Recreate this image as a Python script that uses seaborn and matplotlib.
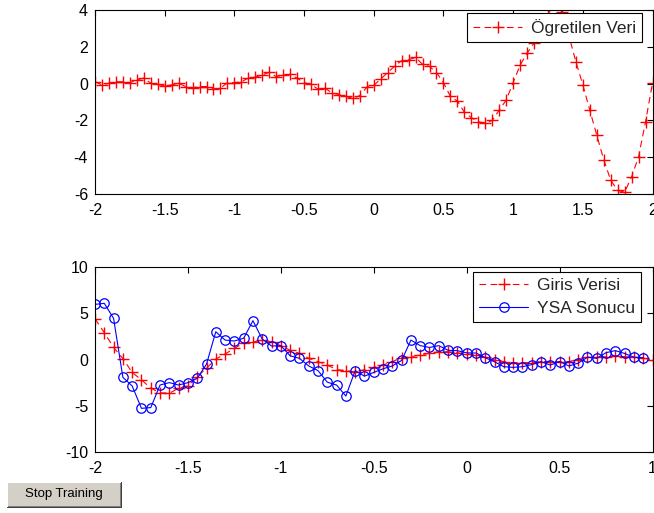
import numpy as np
import pandas as pd
import matplotlib
matplotlib.use("Agg")
import matplotlib.pyplot as plt
from matplotlib.patches import Rectangle
from matplotlib.ticker import FuncFormatter, MultipleLocator
import seaborn as sns

# ---- data ----
x_top = np.round(np.arange(-2.0, 2.0001, 0.05), 2)
y_ogretilen = [
    0.1, -0.07, 0.02, 0.1, 0.1, 0.05, 0.2, 0.3, 0.02, -0.04,
    -0.13, -0.07, 0.02, -0.16, -0.22, -0.16, -0.16, -0.3, -0.25, 0.05,
    0.05, 0.1, 0.3, 0.35, 0.47, 0.62, 0.38, 0.47, 0.5, 0.3,
    0.05, -0.04, -0.3, -0.25, -0.5, -0.6, -0.7, -0.8, -0.65, -0.2,
    -0.1, 0.25, 0.6, 0.95, 1.25, 1.3, 1.42, 1.05, 0.93, 0.6,
    0.05, -0.7, -0.95, -1.55, -1.85, -2.07, -2.16, -2.0, -1.44, -0.9,
    0.05, 1.0, 1.65, 2.2, 3.0, 3.8, 4.3, 3.9, 2.6, 1.2,
    -0.07, -1.44, -2.8, -4.13, -5.25, -5.8, -5.9, -5.07, -3.98, -2.07,
    0.02,
]

x_giris = np.round(np.arange(-2.0, 1.0001, 0.05), 2)
y_giris = [
    4.4, 2.9, 1.3, 0.1, -1.4, -2.2, -3.1, -3.6, -3.65, -3.1,
    -2.85, -1.85, -0.95, 0.05, 0.6, 1.2, 1.8, 1.9, 2.1, 1.9,
    1.5, 1.0, 0.67, 0.13, -0.23, -0.6, -1.1, -1.2, -1.35, -1.1,
    -0.85, -0.6, -0.23, 0.2, 0.3, 0.5, 0.67, 0.85, 0.85, 0.72,
    0.6, 0.49, 0.23, -0.05, -0.23, -0.34, -0.34, -0.34, -0.23, -0.23,
    -0.23, -0.23, 0.0, 0.23, 0.23, 0.31, 0.38, 0.31, 0.23, 0.13,
    0.0,
]

x_ysa = np.round(np.arange(-2.0, 0.9501, 0.05), 2)
y_ysa = [
    5.96, 6.07, 4.45, -1.93, -2.86, -5.28, -5.2, -2.76, -2.5, -2.76,
    -2.5, -2.04, -0.5, 3.0, 2.1, 2.0, 2.3, 4.2, 2.2, 1.46,
    1.5, 0.4, 0.13, -0.7, -1.2, -2.45, -2.76, -3.95, -1.2, -1.8,
    -1.4, -1.0, -0.7, -0.1, 2.1, 1.5, 1.3, 1.5, 1.0, 0.95,
    0.72, 0.7, 0.2, -0.25, -0.78, -0.85, -0.78, -0.55, -0.23, -0.6,
    -0.23, -0.7, -0.4, 0.25, 0.13, 0.74, 0.96, 0.65, 0.25, 0.2,
]

top_df = pd.DataFrame({"x": x_top, "y": y_ogretilen})
giris_df = pd.DataFrame({"x": x_giris, "y": y_giris})
ysa_df = pd.DataFrame({"x": x_ysa, "y": y_ysa})

sns.set_style("white")
plt.rcParams["font.family"] = ["Liberation Sans", "DejaVu Sans"]
plt.rcParams["font.size"] = 11.5

W, H = 654, 513
fig = plt.figure(figsize=(W / 100, H / 100), dpi=100, facecolor="white")


def px_axes(x0, y0, x1, y1):
    # pixel box -> figure fraction
    return fig.add_axes([x0 / W, 1 - y1 / H, (x1 - x0) / W, (y1 - y0) / H])


ax1 = px_axes(95, 10, 652.5, 194)
ax2 = px_axes(95, 267, 652.5, 452)

fmt = FuncFormatter(lambda v, p: "%g" % v)
dash = (0, (6, 4))

# top plot
sns.lineplot(data=top_df, x="x", y="y", ax=ax1, color="red", linestyle=dash,
             linewidth=0.8, marker="+", markersize=8, markeredgewidth=1.0,
             markeredgecolor="red", sort=False, estimator=None,
             label="Ögretilen Veri")
ax1.set_xlim(-2, 2)
ax1.set_ylim(-6, 4)
ax1.xaxis.set_major_locator(MultipleLocator(0.5))
ax1.yaxis.set_major_locator(MultipleLocator(2))

# bottom plot
sns.lineplot(data=giris_df, x="x", y="y", ax=ax2, color="red", linestyle=dash,
             linewidth=0.8, marker="+", markersize=8, markeredgewidth=1.0,
             markeredgecolor="red", sort=False, estimator=None,
             label="Giris Verisi")
sns.lineplot(data=ysa_df, x="x", y="y", ax=ax2, color="blue", linestyle="-",
             linewidth=0.8, marker="o", markersize=6.8, markerfacecolor="none",
             markeredgecolor="blue", markeredgewidth=0.9,
             sort=False, estimator=None, label="YSA Sonucu")
ax2.set_xlim(-2, 1)
ax2.set_ylim(-10, 10)
ax2.xaxis.set_major_locator(MultipleLocator(0.5))
ax2.yaxis.set_major_locator(MultipleLocator(5))

legend_anchor = {ax1: (0.981, 0.984), ax2: (0.979, 0.973)}

for ax in (ax1, ax2):
    ax.set_xlabel("")
    ax.set_ylabel("")
    ax.xaxis.set_major_formatter(fmt)
    ax.yaxis.set_major_formatter(fmt)
    ax.tick_params(direction="in", top=True, right=True, length=4,
                   width=0.8, labelsize=11.5, colors="black")
    ax.tick_params(axis="y", pad=5)
    ax.tick_params(axis="x", pad=6.5)
    for s in ax.spines.values():
        s.set_visible(True)
        s.set_color("black")
        s.set_linewidth(0.8)
    leg = ax.legend(loc="upper right", bbox_to_anchor=legend_anchor[ax],
                    fancybox=False, edgecolor="black", framealpha=1,
                    fontsize=12.5, borderaxespad=0, handlelength=2.8,
                    borderpad=0.35, labelspacing=0.45, handletextpad=0.5)
    leg.get_frame().set_linewidth(0.8)

# "Stop Training" button
def px_rect(x0, y0, x1, y1, color):
    fig.patches.append(Rectangle((x0 / W, 1 - y1 / H), (x1 - x0) / W, (y1 - y0) / H,
                                 transform=fig.transFigure, facecolor=color,
                                 edgecolor="none", zorder=5))

px_rect(7, 482, 122, 508, "#404040")
px_rect(7, 482, 121, 507, "#ffffff")
px_rect(8, 483, 121, 507, "#808080")
px_rect(8, 483, 120, 506, "#d4d0c8")
fig.text(64 / W, 1 - 494.5 / H, "Stop Training", ha="center", va="center",
         fontsize=9.5, color="black", zorder=6)

fig.savefig("out.png", dpi=100, facecolor="white")
